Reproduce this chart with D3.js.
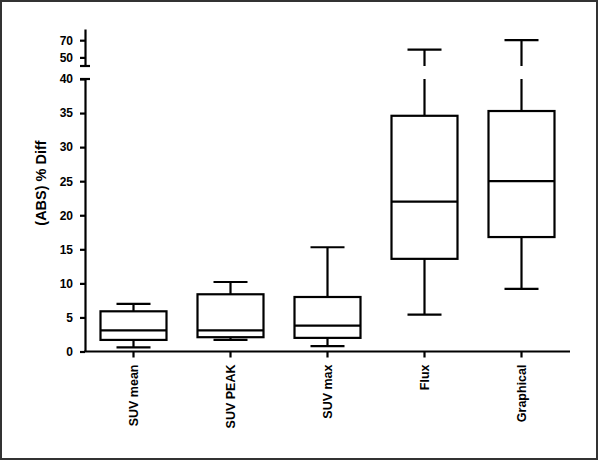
<!DOCTYPE html>
<html>
<head>
<meta charset="utf-8">
<script src="https://cdn.jsdelivr.net/npm/d3@7"></script>
<style>
  html, body { margin: 0; padding: 0; background: #fff; }
  svg { display: block; }
  text { font-family: "Liberation Sans", Arial, sans-serif; font-weight: bold; fill: #000; }
</style>
</head>
<body>
<svg id="chart" width="600" height="462"></svg>
<script>
// ---- data ----
const categories = ["SUV mean", "SUV PEAK", "SUV max", "Flux", "Graphical"];
const whiskerLow  = [0.6, 1.7, 0.8, 5.4, 9.2];
const q1Values    = [1.7, 2.1, 2.0, 13.6, 16.8];
const medians     = [3.1, 3.1, 3.8, 22.0, 25.0];
const q3Values    = [5.9, 8.4, 8.0, 34.6, 35.3];
const whiskerHigh = [7.0, 10.2, 15.3, 59.0, 70.0];
const lowerTicks  = [0, 5, 10, 15, 20, 25, 30, 35, 40];
const upperTicks  = [50, 70];
const yTitle = "(ABS) % Diff";

const rows = categories.map((c, i) => ({
  cat: c, lo: whiskerLow[i], q1: q1Values[i], med: medians[i], q3: q3Values[i], hi: whiskerHigh[i]
}));

const svg = d3.select("#chart");

// frame
svg.append("rect").attr("x", 1).attr("y", 1).attr("width", 596).attr("height", 458)
  .attr("fill", "none").attr("stroke", "#333").attr("stroke-width", 2);

// scales
const x = d3.scaleBand().domain(categories).range([85, 570]).padding(0);
const yLow = d3.scaleLinear().domain([0, 40]).range([351.5, 79]);
const yUp = d3.scaleLinear().domain([40, 83]).range([66, 29]);

const boxW = 66, capW = 34, sw = 2.2;
const cx = d => x(d.cat) + x.bandwidth() / 2;

// lower y axis
const gL = svg.append("g").attr("transform", "translate(85,0)")
  .call(d3.axisLeft(yLow).tickValues(lowerTicks).tickSize(5).tickSizeOuter(0).tickPadding(7));
// upper y axis
const gU = svg.append("g").attr("transform", "translate(85,0)")
  .call(d3.axisLeft(yUp).tickValues(upperTicks).tickSize(5).tickSizeOuter(0).tickPadding(7));
[gL, gU].forEach(g => {
  g.selectAll("path, line").attr("stroke", "#000").attr("stroke-width", sw);
  g.selectAll("text").style("font-size", "12px").style("font-weight", "bold")
    .style("font-family", '"Liberation Sans", Arial, sans-serif');
});
// caps at the axis break
svg.append("line").attr("x1", 80).attr("x2", 90).attr("y1", yLow(40)).attr("y2", yLow(40))
  .attr("stroke", "#000").attr("stroke-width", sw);
svg.append("line").attr("x1", 80).attr("x2", 90).attr("y1", yUp(40)).attr("y2", yUp(40))
  .attr("stroke", "#000").attr("stroke-width", sw);

// x axis
const gX = svg.append("g").attr("transform", `translate(0,${yLow(0)})`)
  .call(d3.axisBottom(x).tickSize(6).tickSizeOuter(0).tickPadding(8));
gX.select(".domain").attr("d", `M${85 - 1},0H570`);
gX.selectAll("path, line").attr("stroke", "#000").attr("stroke-width", sw);
gX.selectAll("text")
  .style("font-size", "12.5px").style("font-weight", "bold")
  .style("font-family", '"Liberation Sans", Arial, sans-serif')
  .attr("transform", "rotate(-90)")
  .attr("text-anchor", "end")
  .attr("x", -13).attr("y", 0).attr("dy", "0.35em");

// y title
svg.append("text")
  .attr("transform", "translate(46,183) rotate(-90)")
  .attr("text-anchor", "middle")
  .style("font-size", "14.5px")
  .text(yTitle);

// boxes
const g = svg.append("g").attr("stroke", "#000").attr("stroke-width", sw).attr("fill", "none");
rows.forEach(d => {
  const c = cx(d);
  // lower whisker
  g.append("line").attr("x1", c).attr("x2", c).attr("y1", yLow(d.q1)).attr("y2", yLow(d.lo));
  g.append("line").attr("x1", c - capW / 2).attr("x2", c + capW / 2).attr("y1", yLow(d.lo)).attr("y2", yLow(d.lo));
  // upper whisker
  if (d.hi <= 40) {
    g.append("line").attr("x1", c).attr("x2", c).attr("y1", yLow(d.q3)).attr("y2", yLow(d.hi));
    g.append("line").attr("x1", c - capW / 2).attr("x2", c + capW / 2).attr("y1", yLow(d.hi)).attr("y2", yLow(d.hi));
  } else {
    g.append("line").attr("x1", c).attr("x2", c).attr("y1", yLow(d.q3)).attr("y2", yLow(40));
    g.append("line").attr("x1", c).attr("x2", c).attr("y1", yUp(40)).attr("y2", yUp(d.hi));
    g.append("line").attr("x1", c - capW / 2).attr("x2", c + capW / 2).attr("y1", yUp(d.hi)).attr("y2", yUp(d.hi));
  }
  // box
  g.append("rect").attr("x", c - boxW / 2).attr("width", boxW)
    .attr("y", yLow(d.q3)).attr("height", yLow(d.q1) - yLow(d.q3)).attr("fill", "#fff");
  // median
  g.append("line").attr("x1", c - boxW / 2).attr("x2", c + boxW / 2).attr("y1", yLow(d.med)).attr("y2", yLow(d.med));
});
</script>
</body>
</html>
